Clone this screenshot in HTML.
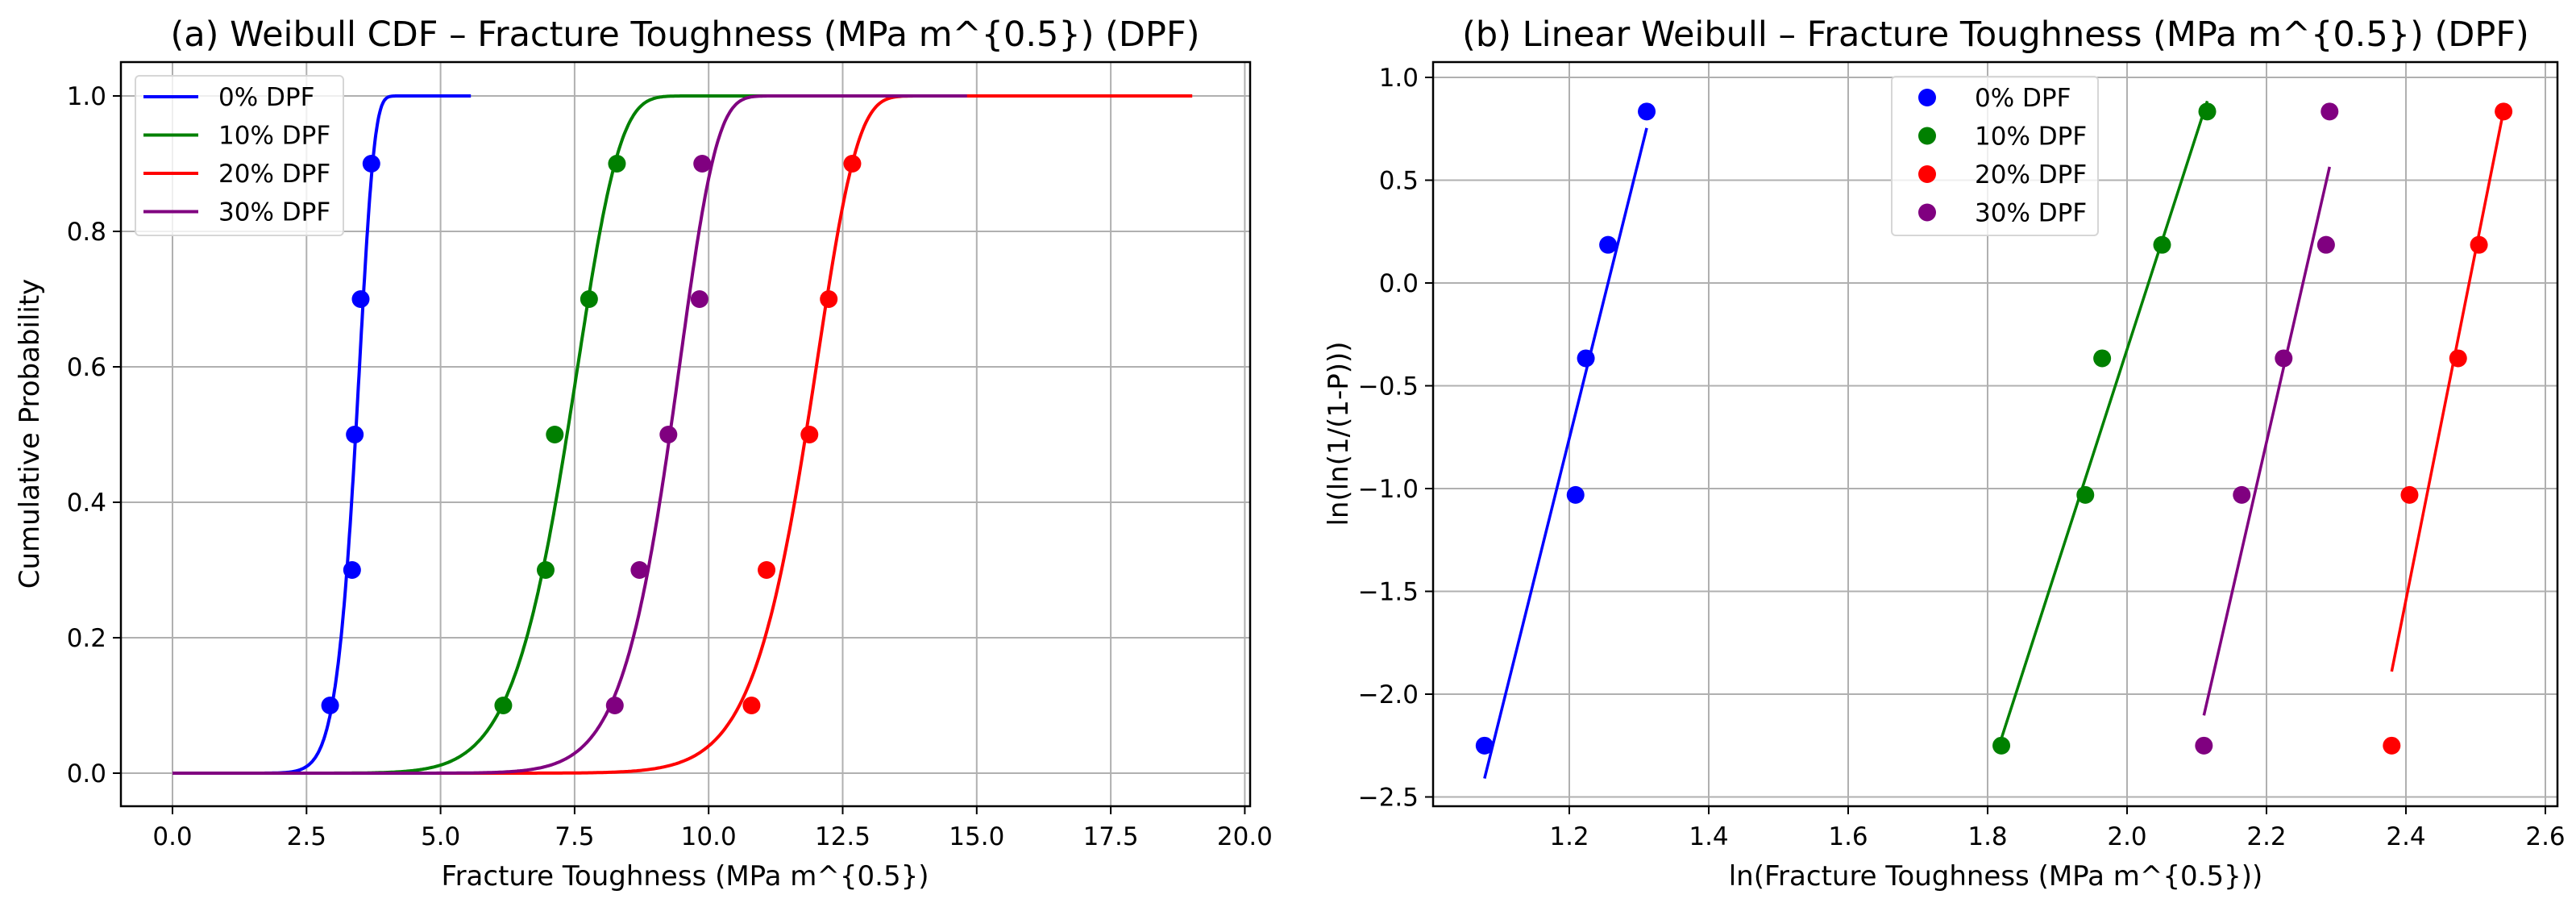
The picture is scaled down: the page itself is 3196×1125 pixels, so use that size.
<!DOCTYPE html>
<html><head><meta charset="utf-8"><style>
html,body{margin:0;padding:0;background:#fff}
svg{display:block;font-family:"DejaVu Sans","Liberation Sans",sans-serif}
</style></head><body>
<svg id="fig" width="3196" height="1125" viewBox="0 0 3196 1125" xmlns="http://www.w3.org/2000/svg"></svg>
<script>
const groups = ["0% DPF","10% DPF","20% DPF","30% DPF"];
const colors = ["#0000ff","#008000","#ff0000","#800080"];
const probs = [0.1,0.3,0.5,0.7,0.9];
const tough0 = [2.94,3.35,3.40,3.51,3.71];
const tough10 = [6.17,6.96,7.13,7.77,8.29];
const tough20 = [10.8,11.08,11.88,12.24,12.68];
const tough30 = [8.25,8.71,9.25,9.83,9.88];
const shapes = [13.6,10.5,17.0,14.8];
const scales = [3.51,7.62,12.07,9.51];
const xTicksA = [0,2.5,5,7.5,10,12.5,15,17.5,20];
const yTicksA = [0,0.2,0.4,0.6,0.8,1.0];
const xTicksB = [1.2,1.4,1.6,1.8,2.0,2.2,2.4,2.6];
const yTicksB = [-2.5,-2.0,-1.5,-1.0,-0.5,0.0,0.5,1.0];

const toughs = [tough0,tough10,tough20,tough30];
const svg = document.getElementById('fig');
const NS = 'http://www.w3.org/2000/svg';
function mk(tag, attrs, parent){const e=document.createElementNS(NS,tag);for(const k in attrs)e.setAttribute(k,attrs[k]);(parent||svg).appendChild(e);return e;}

// Panel A axes
const A = {l:150,r:1551,t:77,b:1000};
const ax = v => 214 + v*66.52;
const ay = v => 959 - v*840;
// Panel B axes
const B = {l:1778,r:3173,t:77,b:1000};
const bx = v => 1947 + (v-1.2)*865;
const by = v => 351 - v*255;

function fmtA(v){return v.toFixed(1);}
function fmtB(v){return (v<0?'\u2212':'')+Math.abs(v).toFixed(1);}

function axesFrame(P, xt, yt, fx, fy, fmtx, fmty, name){
  const g = mk('g',{});
  
  
  xt.forEach(v=>{const x=fx(v); if(x<P.l-1||x>P.r+1) return;
    mk('line',{x1:x,x2:x,y1:P.t,y2:P.b,stroke:'#b0b0b0','stroke-width':2},g);
    mk('line',{x1:x,x2:x,y1:P.b,y2:P.b+10,stroke:'#000','stroke-width':2},g);
    const t=mk('text',{x:x,y:P.b+48,'font-size':31,'text-anchor':'middle',fill:'#000'},g);
    t.textContent=fmtx(v);
    
    
  });
  yt.forEach(v=>{const y=fy(v);
    mk('line',{x1:P.l,x2:P.r,y1:y,y2:y,stroke:'#b0b0b0','stroke-width':2},g);
    mk('line',{x1:P.l-10,x2:P.l,y1:y,y2:y,stroke:'#000','stroke-width':2},g);
    const t=mk('text',{x:P.l-18,y:y+11,'font-size':31,'text-anchor':'end',fill:'#000'},g);
    t.textContent=fmty(v);
    
    
  });
}
axesFrame(A,xTicksA,yTicksA,ax,ay,fmtA,fmtA,'panel-a');
axesFrame(B,xTicksB,yTicksB,bx,by,fmtB,fmtB,'panel-b');

// Panel A curves & points
groups.forEach((gname,i)=>{
  const k=shapes[i], lam=scales[i], xmax=Math.max(...toughs[i])*1.5;
  let d='';
  for(let j=0;j<=600;j++){const x=xmax*j/600; const F=1-Math.exp(-Math.pow(x/lam,k)); d+=(j?'L':'M')+ax(x).toFixed(1)+','+ay(F).toFixed(1);}
  const p=mk('path',{d:d,fill:'none',stroke:colors[i],'stroke-width':4});
  
  
});
groups.forEach((gname,i)=>{
  toughs[i].forEach((v,j)=>{
    const c=mk('circle',{cx:ax(v),cy:ay(probs[j]),r:11,fill:colors[i]});
    
    
  });
});
// Panel B lines & points
groups.forEach((gname,i)=>{
  const k=shapes[i], lam=scales[i];
  const lx=toughs[i].map(Math.log);
  const x0=Math.min(...lx), x1=Math.max(...lx);
  const l=mk('line',{x1:bx(x0),y1:by(k*(x0-Math.log(lam))),x2:bx(x1),y2:by(k*(x1-Math.log(lam))),stroke:colors[i],'stroke-width':3.5});
  
  
  toughs[i].forEach((v,j)=>{
    const yy=Math.log(Math.log(1/(1-probs[j])));
    const c=mk('circle',{cx:bx(Math.log(v)),cy:by(yy),r:11,fill:colors[i]});
    
    
  });
});

// spines
[A,B].forEach((P,i)=>{
  const r=mk('rect',{x:P.l,y:P.t,width:P.r-P.l,height:P.b-P.t,fill:'none',stroke:'#000','stroke-width':2.5});
  
  
});

// legends
function legend(x,y,w,h,mode,name){
  const g=mk('g',{});
  
  
  mk('rect',{x:x,y:y,width:w,height:h,rx:5,fill:'#fff','fill-opacity':0.8,stroke:'#d6d6d6','stroke-width':2},g);
  groups.forEach((gn,i)=>{
    const cy=y+26+i*47.5;
    if(mode==='line'){ mk('line',{x1:x+10,x2:x+78,y1:cy,y2:cy,stroke:colors[i],'stroke-width':4},g); }
    else { mk('circle',{cx:x+44,cy:cy,r:11,fill:colors[i]},g); }
    const t=mk('text',{x:x+(mode==='line'?103:103),y:cy+11,'font-size':31,fill:'#000'},g);
    t.textContent=gn;
    
    
  });
}
legend(168,94,258,198,'line','legend-a');
legend(2347,95,256,197,'dot','legend-b');

// titles & labels
function txt(s,attrs,name){const t=mk('text',attrs);t.textContent=s;return t;}
txt('(a) Weibull CDF \u2013 Fracture Toughness (MPa m^{0.5}) (DPF)',{x:850,y:57,'font-size':43,'text-anchor':'middle'},'title-a');
txt('(b) Linear Weibull \u2013 Fracture Toughness (MPa m^{0.5}) (DPF)',{x:2476,y:57,'font-size':43,'text-anchor':'middle'},'title-b');
txt('Fracture Toughness (MPa m^{0.5})',{x:850,y:1098,'font-size':34,'text-anchor':'middle'},'x-axis-title-a');
txt('ln(Fracture Toughness (MPa m^{0.5}))',{x:2476,y:1098,'font-size':34,'text-anchor':'middle'},'x-axis-title-b');
txt('Cumulative Probability',{x:0,y:0,'font-size':34,'text-anchor':'middle',transform:'translate(48,538) rotate(-90)'},'y-axis-title-a');
txt('ln(ln(1/(1-P)))',{x:0,y:0,'font-size':34,'text-anchor':'middle',transform:'translate(1672,538) rotate(-90)'},'y-axis-title-b');
</script>
</body></html>
